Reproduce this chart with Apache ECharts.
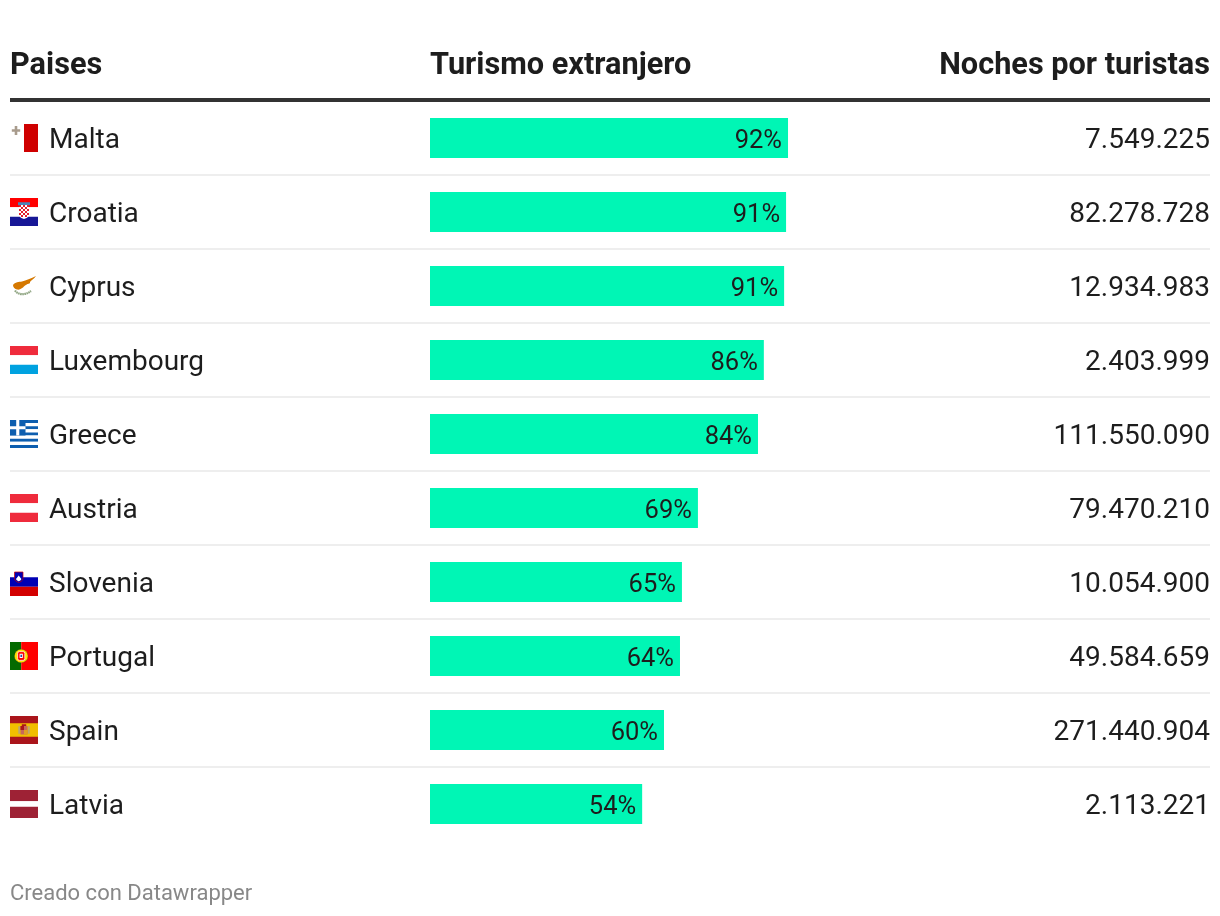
<!DOCTYPE html>
<html>
<head>
<meta charset="utf-8" />
<title>Turismo extranjero</title>
<script src="https://cdn.jsdelivr.net/npm/echarts@6/dist/echarts.min.js"></script>
<style>
  body { margin: 0; padding: 0; background: #fff; }
  #main { width: 1220px; height: 916px; }
</style>
</head>
<body>
<div id="main"></div>
<script>
var countries = ['Malta', 'Croatia', 'Cyprus', 'Luxembourg', 'Greece', 'Austria', 'Slovenia', 'Portugal', 'Spain', 'Latvia'];
var foreignShare = [91.8, 91.3, 90.8, 85.6, 84.1, 68.7, 64.6, 64.1, 60, 54.4];
var nights = [7549225, 82278728, 12934983, 2403999, 111550090, 79470210, 10054900, 49584659, 271440904, 2113221];

// flags are small inline svgs, 28x28
function svg(body) {
  return 'data:image/svg+xml;charset=utf-8,' + encodeURIComponent(
    '<svg xmlns="http://www.w3.org/2000/svg" width="112" height="112" viewBox="0 0 28 28">' + body + '</svg>');
}
function rect(x, y, w, h, c) {
  return '<rect x="' + x + '" y="' + y + '" width="' + w + '" height="' + h + '" fill="' + c + '"/>';
}
function croatiaShield() {
  var s = rect(8, 4.2, 12, 3, '#4a86b8') + rect(9, 7, 10, 8, '#fff');
  for (var r = 0; r < 5; r++) for (var c = 0; c < 5; c++)
    if ((r + c) % 2 == 0) s += rect(9 + c * 2, 7 + r * 2, 2, 2, '#e2202c');
  return s + '<path d="M9 17 C10 20 12.5 20.5 14 21 C15.5 20.5 18 20 19 17 Z" fill="#fff"/>'
    + rect(11, 17, 2, 2, '#e2202c') + rect(15, 17, 2, 2, '#e2202c');
}
function greeceStripes() {
  var s = '';
  for (var i = 0; i < 9; i++) s += rect(0, i * 28 / 9, 28, 28 / 9, i % 2 ? '#fff' : '#0d5eaf');
  return s + rect(0, 0, 15.5, 15.5, '#0d5eaf') + rect(6.2, 0, 3.1, 15.5, '#fff') + rect(0, 6.2, 15.5, 3.1, '#fff');
}
var flagImages = {
  Malta: svg(rect(14, 0, 14, 28, '#cf0000') + rect(4.7, 2, 2.6, 9, '#a89b8c') + rect(1.8, 5.2, 8.4, 2.6, '#a89b8c')),
  Croatia: svg(rect(0, 0, 28, 9.3, '#f00') + rect(0, 9.3, 28, 9.4, '#fff') + rect(0, 18.7, 28, 9.3, '#171796') + croatiaShield()),
  Cyprus: svg('<path d="M3 13 C5 10 9 10 12 9.5 C16 8.5 21 6.5 26 4 C24 7 21 8.5 20 10 C20.5 11 19 12 17.5 12 C16 13 14 14 13 15.5 C11 17 9 18 7 17.5 C5 17 3 15.5 3 13 Z" fill="#d57800"/>'
    + '<path d="M5 18.5 C8 23 15 23.5 21 19" fill="none" stroke="#8fa582" stroke-width="2.2" stroke-dasharray="1.6 .5"/>'),
  Luxembourg: svg(rect(0, 0, 28, 9.3, '#ef2b3c') + rect(0, 9.3, 28, 9.4, '#fff') + rect(0, 18.7, 28, 9.3, '#00a2e0')),
  Greece: svg(greeceStripes()),
  Austria: svg(rect(0, 0, 28, 9.3, '#ef2b3c') + rect(0, 9.3, 28, 9.4, '#fff') + rect(0, 18.7, 28, 9.3, '#ef2b3c')),
  Slovenia: svg(rect(0, 0, 28, 9.3, '#fff') + rect(0, 9.3, 28, 9.4, '#0000b4') + rect(0, 18.7, 28, 9.3, '#d30000')
    + '<path d="M4.5 4 H13 V10.5 C13 13 10 14 8.7 14.5 C7.4 14 4.5 13 4.5 10.5 Z" fill="#0000b4" stroke="#d30000" stroke-width=".7"/>'
    + '<path d="M6 11 L8.7 7.5 L11.4 11 C10.8 12.4 9.6 12.8 8.7 13.2 C7.8 12.8 6.6 12.4 6 11 Z" fill="#fff"/>'),
  Portugal: svg(rect(0, 0, 11.2, 28, '#046a00') + rect(11.2, 0, 16.8, 28, '#f00')
    + '<circle cx="11.2" cy="14" r="6.8" fill="#ffe000" stroke="#333" stroke-width=".3"/>'
    + '<rect x="7.6" y="9.6" width="7.2" height="8.8" rx="1.8" fill="#f00" stroke="#fff" stroke-width=".7"/>'
    + rect(9.6, 11.8, 3.2, 4.2, '#fff') + rect(10.5, 12.8, 1.4, 2.2, '#0a3a9a')),
  Spain: svg(rect(0, 0, 28, 28, '#aa151b') + rect(0, 7.2, 28, 13.6, '#f1bf00')
    + rect(8.4, 10.3, 1.4, 7.4, '#b0a090') + rect(18.2, 10.3, 1.4, 7.4, '#b0a090')
    + rect(10.5, 10, 7, 8.4, '#c8665a') + rect(10.5, 10, 3.5, 4, '#aa151b') + rect(14, 14, 3.5, 4.4, '#e0a020') + rect(11.8, 8.2, 4.4, 1.8, '#ad1519')),
  Latvia: svg(rect(0, 0, 28, 11.2, '#9e2235') + rect(0, 11.2, 28, 5.6, '#fff') + rect(0, 16.8, 28, 11.2, '#9e2235'))
};

function dots(n) {
  return String(n).replace(/\B(?=(\d{3})+$)/g, '.');
}

var flagRich = {
  name: { fontFamily: 'Roboto', fontSize: 28, color: '#1d1d1d', padding: [6, 0, 0, 11] }
};
countries.forEach(function (c, i) {
  flagRich['f' + i] = { width: 28, height: 28, backgroundColor: { image: flagImages[c] } };
});

var chart = echarts.init(document.getElementById('main'), null, { renderer: 'canvas' });
chart.setOption({
  animation: false,
  backgroundColor: '#fff',
  grid: [
    { left: 10, top: 101, width: 1200, height: 740 },
    { left: 430, top: 101, width: 390, height: 740 }
  ],
  xAxis: [
    { gridIndex: 0, type: 'value', show: false, min: 0, max: 100 },
    { gridIndex: 1, type: 'value', show: false, min: 0, max: 100 }
  ],
  yAxis: [
    {
      gridIndex: 0, type: 'category', inverse: true, data: countries,
      axisLine: { show: false }, axisTick: { show: false },
      splitLine: { show: true, showMinLine: false, showMaxLine: false, lineStyle: { color: '#eeeeee', width: 2 } },
      axisLabel: {
        inside: true, align: 'left', margin: 0, interval: 0,
        formatter: function (v, i) { return '{f' + i + '|}{name|' + v + '}'; },
        rich: flagRich
      }
    },
    {
      gridIndex: 0, type: 'category', inverse: true, position: 'right', data: nights,
      axisLine: { show: false }, axisTick: { show: false }, splitLine: { show: false },
      axisLabel: {
        inside: true, align: 'right', margin: 0, interval: 0,
        formatter: function (v) { return '{num|' + dots(v) + '}'; },
        rich: { num: { fontFamily: 'Roboto', fontSize: 28, color: '#1d1d1d', padding: [6, 0, 0, 0] } }
      }
    },
    {
      gridIndex: 1, type: 'category', inverse: true, data: countries, show: false
    }
  ],
  series: [
    {
      type: 'bar', name: 'Turismo extranjero', xAxisIndex: 1, yAxisIndex: 2,
      data: foreignShare, barWidth: 40,
      itemStyle: { color: '#00f6b5' },
      label: {
        show: true, position: 'insideRight', distance: 6, offset: [0, 4],
        fontFamily: 'Roboto', fontSize: 25.5, color: '#1d1d1d',
        formatter: function (p) { return Math.round(p.value) + '%'; }
      }
    }
  ],
  graphic: [
    { type: 'text', left: 10, top: 51, style: { text: 'Paises', fontFamily: 'Roboto', fontWeight: 'bold', fontSize: 30.7, fill: '#1d1d1d' } },
    { type: 'text', left: 430, top: 51, style: { text: 'Turismo extranjero', fontFamily: 'Roboto', fontWeight: 'bold', fontSize: 30.7, fill: '#1d1d1d' } },
    { type: 'text', right: 10, top: 51, style: { text: 'Noches por turistas', fontFamily: 'Roboto', fontWeight: 'bold', fontSize: 30.7, fill: '#1d1d1d' } },
    { type: 'rect', left: 10, top: 98, shape: { width: 1200, height: 4 }, style: { fill: '#333333' } },
    { type: 'text', left: 10, top: 883, style: { text: 'Creado con Datawrapper', fontFamily: 'Roboto', fontSize: 22, fill: '#888888' } }
  ]
});
</script>
</body>
</html>
